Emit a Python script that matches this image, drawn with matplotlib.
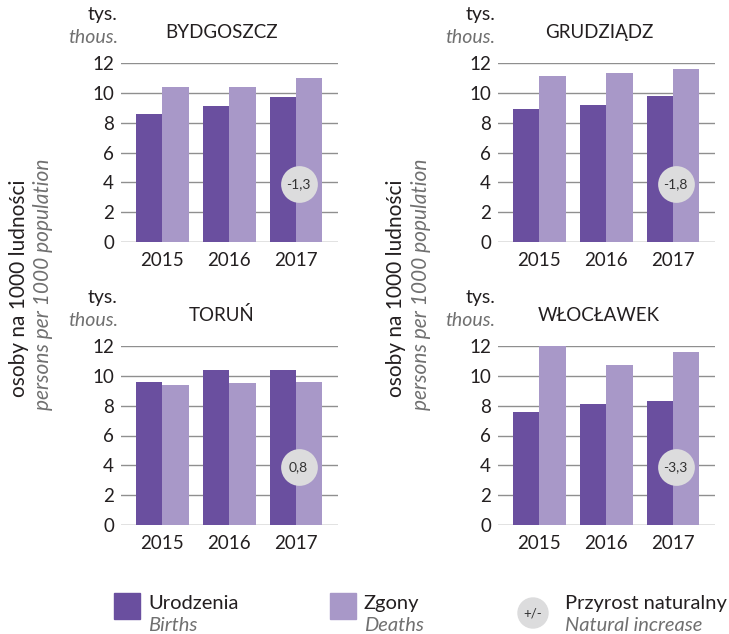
import matplotlib
matplotlib.use("Agg")
import matplotlib.pyplot as plt
import numpy as np

plt.rcParams['font.family'] = ['Lato', 'DejaVu Sans']

years = ["2015", "2016", "2017"]
cities = ["BYDGOSZCZ", "GRUDZIĄDZ", "TORUŃ", "WŁOCŁAWEK"]
births = {
    "BYDGOSZCZ": [8.6, 9.1, 9.7],
    "GRUDZIĄDZ": [8.9, 9.2, 9.8],
    "TORUŃ": [9.6, 10.4, 10.4],
    "WŁOCŁAWEK": [7.6, 8.1, 8.3],
}
deaths = {
    "BYDGOSZCZ": [10.4, 10.4, 11.0],
    "GRUDZIĄDZ": [11.1, 11.3, 11.6],
    "TORUŃ": [9.4, 9.5, 9.6],
    "WŁOCŁAWEK": [12.0, 10.7, 11.6],
}
natural_increase = {
    "BYDGOSZCZ": "-1,3",
    "GRUDZIĄDZ": "-1,8",
    "TORUŃ": "0,8",
    "WŁOCŁAWEK": "-3,3",
}
yticks = [0, 2, 4, 6, 8, 10, 12]

C_BIRTH = "#6a4f9f"
C_DEATH = "#a898c8"
C_CIRCLE = "#dcdcdd"
C_TEXT = "#231f20"
C_GREY = "#707070"

W, H = 729, 634
fig = plt.figure(figsize=(W / 100, H / 100), dpi=100)

def fx(px):
    return px / W

def fy(py):
    return 1 - py / H

# panel positions in pixels: (left, top)
panels = [(121, 63), (498, 63), (121, 346), (498, 346)]
aw, ah = 217, 179

for city, (left, top) in zip(cities, panels):
    ax = fig.add_axes([fx(left), fy(top + ah), aw / W, ah / H])
    x = np.arange(len(years))
    bw = 0.395
    ax.bar(x - bw / 2, births[city], width=bw, color=C_BIRTH, zorder=3)
    ax.bar(x + bw / 2, deaths[city], width=bw, color=C_DEATH, zorder=3)
    ax.set_xlim(-0.62, 2.63)
    ax.set_ylim(0, 12)
    ax.set_yticks(yticks)
    ax.set_yticklabels([str(t) for t in yticks])
    ax.set_xticks(x)
    ax.set_xticklabels(years)
    for t in yticks:
        ax.axhline(t, color="#8f8f8f" if t else "#6f6f6f", lw=1.0, zorder=1)
    for s in ax.spines.values():
        s.set_visible(False)
    ax.tick_params(axis='both', length=0, labelsize=13.5, colors=C_TEXT)
    ax.tick_params(axis='y', pad=5)
    ax.tick_params(axis='x', pad=7)
    # natural increase circle
    ax.scatter([2.04], [3.9], s=700, color=C_CIRCLE, zorder=5, linewidths=0)
    ax.text(2.04, 3.9, natural_increase[city], ha='center', va='center',
            fontsize=10, color="#333333", zorder=6)
    # labels
    fig.text(fx(left - 3), fy(top - 43), "tys.", ha='right', va='baseline',
             fontsize=14, color=C_TEXT)
    fig.text(fx(left - 3), fy(top - 20), "thous.", ha='right', va='baseline',
             fontsize=14, color=C_GREY, style='italic')
    fig.text(fx(left + 101), fy(top - 25), city, ha='center', va='baseline',
             fontsize=13.5, color=C_TEXT)

# y-axis labels
for xb, xg in [(19, 43), (396, 421)]:
    fig.text(fx(xb), fy(288), "osoby na 1000 ludności", rotation=90,
             ha='center', va='center', fontsize=15, color=C_TEXT)
    fig.text(fx(xg), fy(284), "persons per 1000 population", rotation=90,
             ha='center', va='center', fontsize=15, color=C_GREY, style='italic')

# legend
lax = fig.add_axes([0, 0, 1, 1], facecolor='none')
lax.set_xlim(0, W)
lax.set_ylim(H, 0)
lax.axis('off')
lax.add_patch(plt.Rectangle((114, 593), 26, 26, color=C_BIRTH))
lax.add_patch(plt.Rectangle((330, 593), 26, 26, color=C_DEATH))
lax.add_patch(plt.Circle((533, 613), 15, color=C_CIRCLE))
lax.text(533, 613, "+/-", ha='center', va='center', fontsize=9.5, color="#333333")
legend_items = [(148, "Urodzenia", "Births"), (364, "Zgony", "Deaths"),
                (565, "Przyrost naturalny", "Natural increase")]
for lx, main, sub in legend_items:
    lax.text(lx, 609, main, ha='left', va='baseline', fontsize=14.5, color=C_TEXT)
    lax.text(lx, 631, sub, ha='left', va='baseline', fontsize=14.5,
             color=C_GREY, style='italic')

fig.savefig("out.png", dpi=100)
